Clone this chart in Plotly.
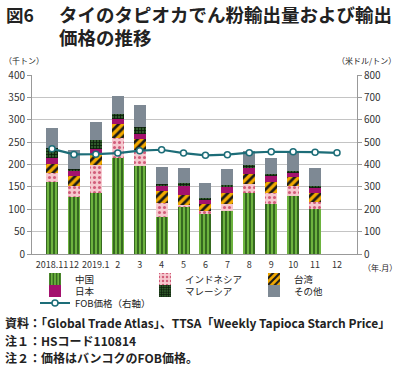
import plotly.graph_objects as go

# ---- data ----
categories = ["2018.11", "2018.12", "2019.1", "2019.2", "2019.3", "2019.4", "2019.5",
              "2019.6", "2019.7", "2019.8", "2019.9", "2019.10", "2019.11", "2019.12"]
tick_labels = ["2018.11", "12", "2019.1", "2", "3", "4", "5", "6", "7", "8", "9", "10", "11", "12"]

china     = [160, 128, 136, 214, 197, 83, 105, 89, 96, 136, 112, 130, 100, None]
indonesia = [20, 24, 62, 46, 35, 31, 5, 7, 15, 21, 24, 21, 17, None]
taiwan    = [22, 22, 26, 30, 25, 26, 22, 15, 25, 21, 24, 22, 19, None]
japan     = [13, 12, 10, 12, 12, 12, 20, 11, 13, 15, 15, 9, 13, None]
malaysia  = [21, 4, 20, 11, 14, 5, 6, 4, 6, 7, 3, 4, 3, None]
others    = [46, 43, 40, 39, 49, 37, 35, 33, 36, 30, 36, 43, 41, None]
fob_price = [470, 445, 446, 451, 462, 466, 451, 441, 444, 453, 457, 457, 455, 452]

series_names = ["中国", "インドネシア", "台湾", "日本", "マレーシア", "その他"]
fob_name = "FOB価格（右軸）"

# ---- layout geometry (pixels) ----
W, H = 400, 365
PX0, PX1, PY0, PY1 = 32, 357, 75, 254  # plot area left, right, top, bottom


def px(x):
    return (x - PX0) / (PX1 - PX0)


def py(y):
    return (PY1 - y) / (PY1 - PY0)


styles = [
    dict(bg="#6db33f", fg="#1e4a12", shape="|", size=4, solidity=0.35),
    dict(bg="#f6c9cf", fg="#d25d7a", shape=".", size=5, solidity=0.3),
    dict(bg="#f2a900", fg="#1a1a1a", shape="/", size=6, solidity=0.45),
    dict(color="#a3116e"),
    dict(bg="#2f5a2a", fg="#0b1a09", shape="+", size=3, solidity=0.45),
    dict(color="#7e8994"),
]
# legend slot per series: (legend id, text-left x px, row center y px)
legend_slots = [
    ("legend", 75, 279), ("legend2", 185, 279), ("legend3", 294, 279),
    ("legend4", 75, 291), ("legend5", 185, 291), ("legend6", 294, 291),
    ("legend7", 75, 303),
]

fig = go.Figure()
for name, vals, st, slot in zip(series_names, [china, indonesia, taiwan, japan, malaysia, others],
                                styles, legend_slots):
    if "shape" in st:
        marker = dict(color=st["bg"], line=dict(width=0),
                      pattern=dict(shape=st["shape"], fgcolor=st["fg"], bgcolor=st["bg"],
                                   size=st["size"], solidity=st["solidity"], fillmode="replace"))
    else:
        marker = dict(color=st["color"], line=dict(width=0))
    fig.add_trace(go.Bar(x=categories, y=vals, name=name, marker=marker, yaxis="y", legend=slot[0]))

fig.add_trace(go.Scatter(x=categories, y=fob_price, name=fob_name, yaxis="y2", mode="lines+markers",
                         legend=legend_slots[6][0],
                         line=dict(color="#1d6d78", width=2.2),
                         marker=dict(symbol="circle", size=6, color="white",
                                     line=dict(color="#1d6d78", width=1.5))))

font_jp = "Noto Sans CJK JP, Noto Sans, sans-serif"


def legend_box(text_x, y_px):
    return dict(orientation="h", x=px(text_x - 40), y=py(y_px), xanchor="left", yanchor="middle",
                font=dict(size=9.5, color="#222222"), itemwidth=30,
                bgcolor="rgba(0,0,0,0)", tracegroupgap=0)


legend_layout = {slot[0]: legend_box(slot[1], slot[2]) for slot in legend_slots}

fig.update_layout(
    width=W, height=H,
    margin=dict(l=PX0, r=W - PX1, t=PY0, b=H - PY1, autoexpand=False),
    paper_bgcolor="white", plot_bgcolor="white",
    barmode="stack", bargap=0.45,
    font=dict(family=font_jp, size=10, color="#333333"),
    showlegend=True,
    xaxis=dict(type="category", categoryorder="array", categoryarray=categories,
               tickmode="array", tickvals=categories, ticktext=tick_labels, tickangle=0,
               automargin=False, ticklabelstandoff=2,
               showgrid=False, showline=True, linecolor="#999999", linewidth=1,
               ticks="", tickfont=dict(size=9, color="#333333")),
    yaxis=dict(range=[0, 400], dtick=50, showgrid=True, gridcolor="#c4c4c4", gridwidth=1,
               automargin=False,
               showline=True, linecolor="#999999", ticks="outside", ticklen=4, tickcolor="#999999",
               tickfont=dict(size=10, color="#333333"), zeroline=False),
    yaxis2=dict(range=[0, 800], dtick=100, overlaying="y", side="right", showgrid=False,
                automargin=False,
                showline=True, linecolor="#999999", ticks="outside", ticklen=4, tickcolor="#999999",
                tickfont=dict(size=10, color="#333333"), zeroline=False),
    **legend_layout,
)

ann = [
    dict(text="図6", x=px(4), y=py(14), size=17.5, bold=True),
    dict(text="タイのタピオカでん粉輸出量および輸出", x=px(57), y=py(14), size=18.5, bold=True),
    dict(text="価格の推移", x=px(57), y=py(37), size=18.5, bold=True),
    dict(text="（千トン）", x=px(2), y=py(61), size=8, bold=False),
    dict(text="（米ドル/トン）", x=px(335), y=py(61), size=8, bold=False),
    dict(text="（年.月）", x=px(361), y=py(267), size=8, bold=False),
    dict(text="資料：「Global Trade Atlas」、TTSA「Weekly Tapioca Starch Price」", x=px(3), y=py(322), size=12, bold=True),
    dict(text="注１：HSコード110814", x=px(3), y=py(340), size=12, bold=True),
    dict(text="注２：価格はバンコクのFOB価格。", x=px(3), y=py(357), size=12, bold=True),
]
for a in ann:
    fig.add_annotation(text=a["text"], xref="paper", yref="paper", x=a["x"], y=a["y"],
                       xanchor="left", yanchor="middle", showarrow=False,
                       font=dict(family=font_jp, size=a["size"], color="#222222",
                                 weight="bold" if a["bold"] else "normal"))

fig.write_html("out.html", config={"displayModeBar": False},
               post_script="document.body.style.margin='0';document.body.style.overflow='hidden';")
